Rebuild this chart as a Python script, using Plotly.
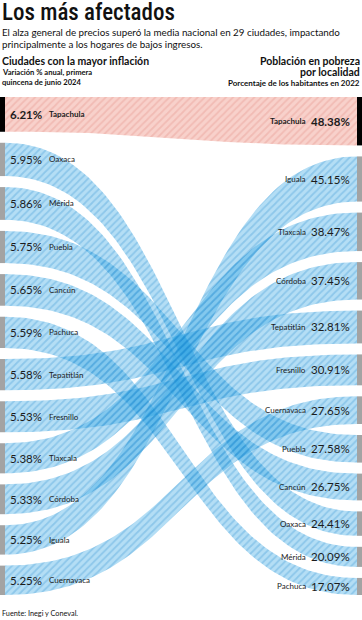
import numpy as np
import plotly.graph_objects as go

# ---------------- data ----------------
left_cities = ["Tapachula", "Oaxaca", "Mérida", "Puebla", "Cancún", "Pachuca",
               "Tepatitlán", "Fresnillo", "Tlaxcala", "Córdoba", "Iguala", "Cuernavaca"]
inflation = [6.21, 5.95, 5.86, 5.75, 5.65, 5.59, 5.58, 5.53, 5.38, 5.33, 5.25, 5.25]

right_cities = ["Tapachula", "Iguala", "Tlaxcala", "Córdoba", "Tepatitlán", "Fresnillo",
                "Cuernavaca", "Puebla", "Cancún", "Oaxaca", "Mérida", "Pachuca"]
poverty = [48.38, 45.15, 38.47, 37.45, 32.81, 30.91, 27.65, 27.58, 26.75, 24.41, 20.09, 17.07]

highlight = "Tapachula"

# ---------------- layout constants ----------------
W, H = 362, 620
TOP, GAP = 97, 11
X0, X1 = 5, 357          # band start / end
BAR_W = 5

total_right = sum(poverty)
k_left = total_right / sum(inflation)
span = total_right + GAP * (len(poverty) - 1)
BOTTOM = H - TOP - span

left_pos, y = {}, 0.0
for c, v in zip(left_cities, inflation):
    h = v * k_left
    left_pos[c] = (y, y + h)
    y += h + GAP

right_pos, y = {}, 0.0
for c, v in zip(right_cities, poverty):
    right_pos[c] = (y, y + v)
    y += v + GAP


def bez(p0, p1, p2, p3, t):
    return ((1 - t) ** 3) * p0 + 3 * ((1 - t) ** 2) * t * p1 + 3 * (1 - t) * t ** 2 * p2 + t ** 3 * p3


t = np.linspace(0, 1, 80)
xm = (X0 + X1) / 2
xs = bez(X0, xm, xm, X1, t)

fig = go.Figure()

blue_bg = "rgba(40,160,225,0.35)"
blue_fg = "rgba(15,125,200,0.48)"
red_bg = "rgba(238,140,125,0.40)"
red_fg = "rgba(215,100,90,0.40)"

order = [c for c in left_cities if c != highlight] + [highlight]
for c in order:
    la, lb = left_pos[c]
    ra, rb = right_pos[c]
    ytop = bez(la, la, ra, ra, t)
    ybot = bez(lb, lb, rb, rb, t)
    px = np.concatenate([xs, xs[::-1], xs[:1]])
    py = np.concatenate([ytop, ybot[::-1], ytop[:1]])
    hl = c == highlight
    fig.add_trace(go.Scatter(
        x=px, y=py, mode="lines", line=dict(width=0),
        fill="toself",
        fillcolor="rgba(0,0,0,0)",
        fillpattern=dict(shape="/", size=5, solidity=0.35,
                         bgcolor=red_bg if hl else blue_bg,
                         fgcolor=red_fg if hl else blue_fg),
        hoverinfo="skip", showlegend=False))

shapes = []
for c in left_cities:
    a, b = left_pos[c]
    shapes.append(dict(type="rect", xref="x", yref="y", x0=0, x1=BAR_W, y0=a, y1=b,
                       line=dict(width=0), fillcolor="#000" if c == highlight else "#a3a3a3"))
for c in right_cities:
    a, b = right_pos[c]
    shapes.append(dict(type="rect", xref="x", yref="y", x0=W - BAR_W, x1=W, y0=a, y1=b,
                       line=dict(width=0), fillcolor="#000" if c == highlight else "#a3a3a3"))

FONT = "Lato, 'Open Sans', sans-serif"
ann = []
for c, v in zip(left_cities, inflation):
    a, b = left_pos[c]
    yc = (a + b) / 2
    hl = c == highlight
    ann.append(dict(x=8, y=yc, xref="x", yref="y", xanchor="left", yanchor="middle",
                    text=(f"<b>{v:.2f}%</b>" if hl else f"{v:.2f}%"), showarrow=False,
                    font=dict(family=FONT, size=11.5, color="#1c1c1c")))
    ann.append(dict(x=47, y=yc, xref="x", yref="y", xanchor="left", yanchor="middle",
                    text=(f"<b>{c}</b>" if hl else c), showarrow=False,
                    font=dict(family=FONT, size=8, color="#1c1c1c")))
for c, v in zip(right_cities, poverty):
    a, b = right_pos[c]
    yc = (a + b) / 2
    hl = c == highlight
    ann.append(dict(x=352, y=yc, xref="x", yref="y", xanchor="right", yanchor="middle",
                    text=(f"<b>{v:.2f}%</b>" if hl else f"{v:.2f}%"), showarrow=False,
                    font=dict(family=FONT, size=11.5, color="#1c1c1c")))
    ann.append(dict(x=308, y=yc, xref="x", yref="y", xanchor="right", yanchor="middle",
                    text=(f"<b>{c}</b>" if hl else c), showarrow=False,
                    font=dict(family=FONT, size=8, color="#1c1c1c")))


def py2paper(p):
    return 1 - (p - TOP) / span


def header(text, x, ypix, size, anchor="left", family=FONT, color="#111", weight=None):
    f = dict(family=family, size=size, color=color)
    if weight:
        f["weight"] = weight
    ann.append(dict(x=x, y=py2paper(ypix), xref="paper", yref="paper", xanchor=anchor,
                    yanchor="middle", text=text, showarrow=False, font=f))


header("Los más afectados", 0, 13, 23,
       family="'Roboto Condensed', Roboto, sans-serif", color="#111", weight=500)
header("El alza general de precios superó la media nacional en 29 ciudades, impactando", 0, 32.5, 9.8)
header("principalmente a los hogares de bajos ingresos.", 0, 44, 9.8)
header("<b>Ciudades con la mayor inflación</b>", 0, 61.5, 10.5)
header("<b>Variación % anual, primera</b>", 0, 72.5, 7.6)
header("<b>quincena de junio 2024</b>", 0, 82.5, 7.6)
header("<b>Población en pobreza</b>", 1, 61, 10.5, anchor="right")
header("<b>por localidad</b>", 1, 72.5, 10.5, anchor="right")
header("<b>Porcentaje de los habitantes en 2022</b>", 1, 83.5, 8, anchor="right")
header("Fuente: Inegi y Coneval.", 0, 613, 7.3)

fig.update_layout(
    width=W, height=H,
    margin=dict(l=0, r=0, t=TOP, b=BOTTOM, pad=0),
    paper_bgcolor="white", plot_bgcolor="white",
    xaxis=dict(range=[0, W], visible=False, fixedrange=True),
    yaxis=dict(range=[span, 0], visible=False, fixedrange=True),
    shapes=shapes, annotations=ann, showlegend=False,
)

fig.write_html("out.html", config={"displayModeBar": False},
               post_script="document.body.style.margin='0';document.body.style.overflow='hidden';")
